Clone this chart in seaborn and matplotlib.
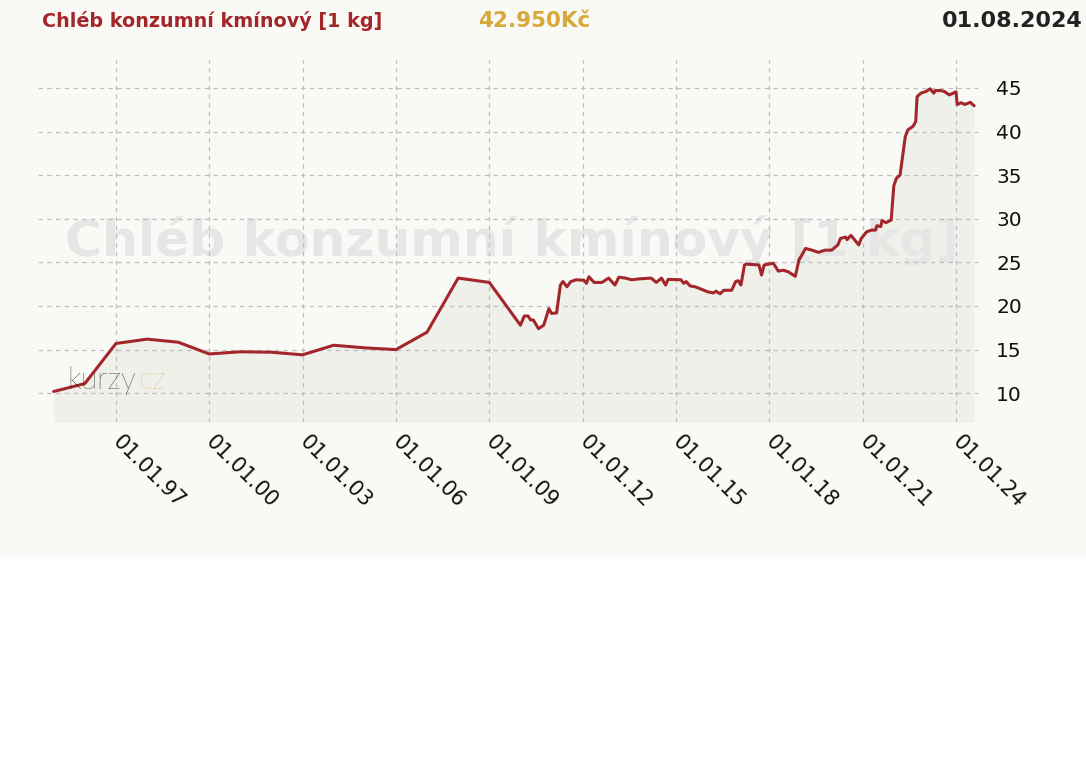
import pandas as pd
import matplotlib
matplotlib.use("Agg")
import matplotlib.pyplot as plt
import matplotlib.dates as mdates
from matplotlib.patches import Rectangle
import seaborn as sns

# price of caraway bread, Kc per 1 kg
dates = [
    "1995-01-01", "1996-01-01", "1997-01-01", "1998-01-01", "1999-01-01",
    "2000-01-01", "2001-01-01", "2002-01-01", "2003-01-01", "2004-01-01",
    "2005-01-01", "2006-01-01", "2007-01-01", "2008-01-01", "2009-01-01",
    "2010-01-01", "2010-02-15", "2010-04-01", "2010-05-01", "2010-06-01",
    "2010-08-01", "2010-10-01", "2010-12-01", "2011-01-01", "2011-03-01",
    "2011-04-15", "2011-05-15", "2011-07-01", "2011-08-15", "2011-10-15",
    "2012-01-15", "2012-02-15", "2012-03-15", "2012-05-15", "2012-08-15",
    "2012-11-01", "2013-01-15", "2013-03-01", "2013-05-15", "2013-08-01",
    "2013-10-15", "2014-03-15", "2014-05-15", "2014-07-15", "2014-09-01",
    "2014-10-01", "2015-03-01", "2015-04-01", "2015-05-01", "2015-06-15",
    "2015-08-15", "2016-01-15", "2016-03-15", "2016-04-15", "2016-06-01",
    "2016-07-15", "2016-10-15", "2016-12-01", "2017-01-01", "2017-02-01",
    "2017-03-15", "2017-04-01", "2017-09-01", "2017-10-01", "2017-11-01",
    "2018-02-15", "2018-03-15", "2018-04-15", "2018-06-15", "2018-08-15",
    "2018-11-01", "2018-12-15", "2019-01-15", "2019-03-01", "2019-05-15",
    "2019-08-01", "2019-10-15", "2020-01-01", "2020-03-15", "2020-04-15",
    "2020-06-15", "2020-07-01", "2020-08-15", "2020-10-01", "2020-11-15",
    "2020-12-15", "2021-02-15", "2021-04-15", "2021-06-01", "2021-06-15",
    "2021-08-01", "2021-08-15", "2021-10-01", "2021-12-01", "2022-01-01",
    "2022-02-01", "2022-03-15", "2022-05-15", "2022-06-15", "2022-08-15",
    "2022-09-15", "2022-10-01", "2022-11-15", "2023-01-15", "2023-03-01",
    "2023-04-15", "2023-05-01", "2023-07-01", "2023-08-15", "2023-10-15",
    "2024-01-01", "2024-01-15", "2024-03-01", "2024-04-15", "2024-06-15",
    "2024-08-01",
]
prices = [
    10.2, 11.1, 15.7, 16.2, 15.85,
    14.5, 14.75, 14.7, 14.4, 15.5,
    15.2, 15.0, 17.0, 23.2, 22.7,
    17.8, 18.85, 18.85, 18.4, 18.4,
    17.4, 17.8, 19.7, 19.15, 19.2,
    22.4, 22.8, 22.2, 22.8, 23.0,
    22.95, 22.6, 23.35, 22.7, 22.7,
    23.2, 22.4, 23.3, 23.2, 23.0,
    23.1, 23.2, 22.7, 23.2, 22.4,
    23.05, 23.0, 22.6, 22.8, 22.3,
    22.2, 21.6, 21.5, 21.7, 21.4,
    21.8, 21.8, 22.8, 22.9, 22.4,
    24.7, 24.8, 24.7, 23.55, 24.7,
    24.9, 24.5, 24.0, 24.1, 23.9,
    23.4, 25.3, 25.8, 26.6, 26.4,
    26.15, 26.4, 26.4, 27.0, 27.75,
    27.9, 27.6, 28.1, 27.55, 27.0,
    27.75, 28.5, 28.7, 28.7, 29.2,
    29.1, 29.8, 29.55, 29.85, 33.8,
    34.65, 35.0, 39.4, 40.2, 40.6,
    41.15, 44.0, 44.4, 44.6, 44.9,
    44.4, 44.7, 44.7, 44.6, 44.2,
    44.55, 43.1, 43.3, 43.1, 43.35,
    42.95,
]
tick_dates = ["1997-01-01", "2000-01-01", "2003-01-01", "2006-01-01", "2009-01-01",
              "2012-01-01", "2015-01-01", "2018-01-01", "2021-01-01", "2024-01-01"]
y_ticks = [10, 15, 20, 25, 30, 35, 40, 45]

title = "Chléb konzumní kmínový [1 kg]"
last_price = "42.950Kč"
last_date = "01.08.2024"

df = pd.DataFrame({"date": pd.to_datetime(dates), "price": prices})

sns.set_style("white")
plt.rcParams["font.family"] = ["DejaVu Sans"]

W, H = 1086, 757
fig = plt.figure(figsize=(W / 100, H / 100), dpi=100, facecolor="white")
# light panel behind the chart, white below it
fig.patches.append(Rectangle((0, 1 - 557 / H), 1, 557 / H, transform=fig.transFigure,
                             facecolor="#f9f9f5", edgecolor="none", zorder=-10))

ax = fig.add_axes([38 / W, 1 - 422 / H, (978 - 38) / W, (422 - 60) / H])
ax.set_facecolor("none")

ymin, ymax = 6.7, 48.2
ax.fill_between(df["date"], df["price"], ymin, color="#f0f0ea", lw=0, zorder=0.1)
sns.lineplot(data=df, x="date", y="price", ax=ax, color="#a3262a", lw=2.2, zorder=2)

ax.set_xlim(pd.Timestamp("1994-07-01"), pd.Timestamp("2024-09-15"))
ax.set_ylim(ymin, ymax)

ax.set_axisbelow(True)
ax.grid(True, color="#bdbdbd", ls=(0, (3.5, 3.5)), lw=0.9)
for s in ax.spines.values():
    s.set_visible(False)

ax.set_xticks(pd.to_datetime(tick_dates))
ax.xaxis.set_major_formatter(mdates.DateFormatter("%d.%m.%y"))
ax.tick_params(axis="x", length=4, color="#bbbbbb", pad=8, labelsize=15, labelcolor="#111111")
for lab in ax.get_xticklabels():
    lab.set_rotation(-45)
    lab.set_ha("left")
    lab.set_va("center")
    lab.set_rotation_mode("anchor")

ax.set_yticks(y_ticks)
ax.yaxis.tick_right()
ax.tick_params(axis="y", length=0, pad=13, labelsize=14.5, labelcolor="#111111")
ax.set_xlabel("")
ax.set_ylabel("")

# watermark and logo
ax.text(512 / W, 1 - 240 / H, title, transform=fig.transFigure, ha="center", va="center",
        fontsize=36.3, fontweight="bold", color="#e6e6e6", zorder=0.3)
ax.text(67 / W, 1 - 381 / H, "kurzy", transform=fig.transFigure, ha="left", va="center",
        fontsize=22, family=["Lato", "DejaVu Sans"], fontweight="light", color="#000000", zorder=3)
ax.text(138 / W, 1 - 381 / H, "cz", transform=fig.transFigure, ha="left", va="center",
        fontsize=22, family=["Lato", "DejaVu Sans"], fontweight="light", color="#d9ae55", zorder=3)

# header
fig.text(42 / W, 1 - 21 / H, title, ha="left", va="center", fontsize=13.8,
         fontweight="bold", color="#a3262a")
fig.text(534 / W, 1 - 21 / H, last_price, ha="center", va="center", fontsize=15.5,
         fontweight="bold", color="#d8a93a")
fig.text(1083 / W, 1 - 21 / H, last_date, ha="right", va="center", fontsize=16,
         fontweight="bold", color="#222222")

fig.savefig("out.png", dpi=100, facecolor="white")
